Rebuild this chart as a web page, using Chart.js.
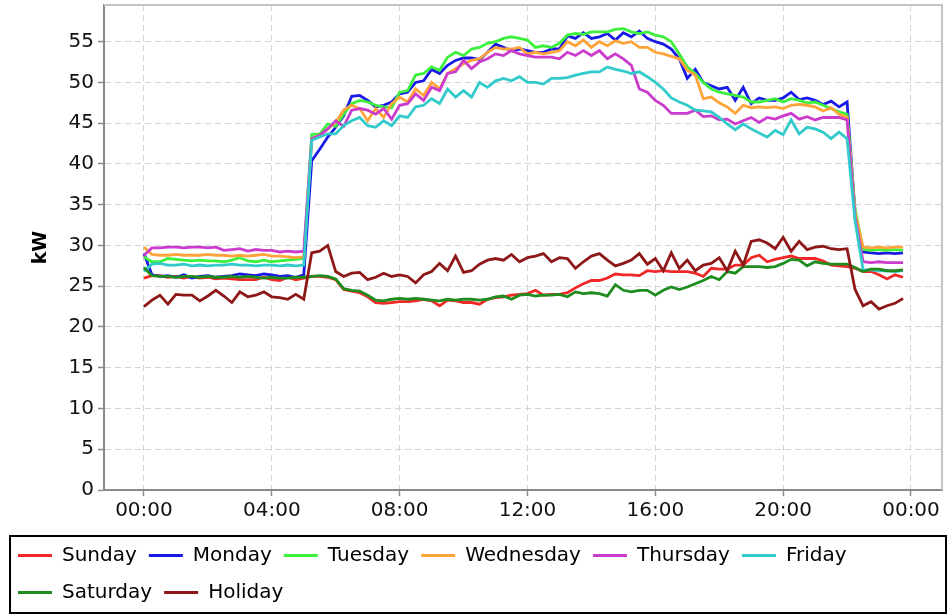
<!DOCTYPE html>
<html><head><meta charset="utf-8">
<script src="https://cdn.jsdelivr.net/npm/chart.js@4.4.1/dist/chart.umd.min.js"></script>
<style>html,body{margin:0;padding:0;background:#fff}canvas{display:block}</style>
</head><body>
<canvas id="c" width="948" height="615"></canvas>
<script>
// 15-minute time slots
const timeSlots = ["00:00","00:15","00:30","00:45","01:00","01:15","01:30","01:45","02:00","02:15","02:30","02:45",
"03:00","03:15","03:30","03:45","04:00","04:15","04:30","04:45","05:00","05:15","05:30","05:45",
"06:00","06:15","06:30","06:45","07:00","07:15","07:30","07:45","08:00","08:15","08:30","08:45",
"09:00","09:15","09:30","09:45","10:00","10:15","10:30","10:45","11:00","11:15","11:30","11:45",
"12:00","12:15","12:30","12:45","13:00","13:15","13:30","13:45","14:00","14:15","14:30","14:45",
"15:00","15:15","15:30","15:45","16:00","16:15","16:30","16:45","17:00","17:15","17:30","17:45",
"18:00","18:15","18:30","18:45","19:00","19:15","19:30","19:45","20:00","20:15","20:30","20:45",
"21:00","21:15","21:30","21:45","22:00","22:15","22:30","22:45","23:00","23:15","23:30","23:45"];

const xTickHours = [0, 4, 8, 12, 16, 20, 24];
const xTickLabels = ["00:00", "04:00", "08:00", "12:00", "16:00", "20:00", "00:00"];
const yTicks = [0, 5, 10, 15, 20, 25, 30, 35, 40, 45, 50, 55];
const yTitle = "kW";
const seriesNames = ["Sunday", "Monday", "Tuesday", "Wednesday", "Thursday", "Friday", "Saturday", "Holiday"];

const sunday = [26.0,26.3,26.3,26.1,26.2,26.0,26.2,26.0,26.1,25.9,26.0,25.9,25.8,25.8,25.8,26.1,25.8,25.7,26.1,25.8,26.0,
26.2,26.2,26.1,25.8,24.6,24.4,24.2,23.7,23.0,22.9,23.0,23.1,23.1,23.2,
23.4,23.2,22.6,23.3,23.2,23.0,23.0,22.8,23.4,23.6,23.7,23.9,24.0,24.1,24.5,23.9,24.0,24.0,24.2,24.8,25.3,25.7,25.7,26.0,26.5,26.4,26.4,26.3,26.9,26.8,26.9,26.8,26.8,26.8,26.6,
26.2,27.2,27.1,27.1,27.6,27.6,28.5,28.8,28.0,28.3,28.5,28.7,28.4,28.4,28.4,28.1,27.6,27.5,27.4,27.2,26.8,26.8,26.4,25.9,26.4,26.1];

const monday = [29.0,26.4,26.2,26.3,26.1,26.4,26.0,26.2,26.3,26.1,26.2,26.3,26.5,26.4,26.3,26.5,26.4,26.2,26.3,26.1,26.4,
40.4,41.8,43.3,44.5,45.9,48.3,48.4,47.8,47.0,47.2,47.6,48.6,48.8,50.0,50.2,51.6,51.1,52.1,52.7,53.0,53.0,52.8,53.7,54.7,54.3,53.9,54.1,53.9,53.7,53.7,54.1,54.1,55.7,55.4,56.1,55.4,55.6,56.0,
55.2,56.1,55.6,56.3,55.4,55.0,54.7,54.1,52.9,50.5,51.6,50.0,49.6,49.2,49.4,47.8,49.4,47.4,48.1,47.8,47.8,48.1,48.8,47.9,48.1,47.8,47.3,47.7,47.0,47.6,
34.0,29.2,29.1,29.0,29.1,29.0,29.1];

const tuesday = [28.6,28.0,28.0,28.4,28.3,28.2,28.1,28.2,28.1,28.1,28.0,28.2,28.5,28.1,28.0,28.2,28.0,28.1,28.2,28.3,28.4,
43.6,43.7,44.9,44.6,46.1,47.4,47.8,47.6,47.2,47.0,46.9,48.8,49.0,50.9,51.1,51.9,51.5,53.1,53.7,53.3,54.1,54.3,54.8,55.0,55.4,55.6,55.4,55.2,54.3,54.5,54.3,54.8,55.8,56.0,55.9,56.2,56.2,56.2,
56.5,56.6,56.2,56.0,56.2,55.8,55.6,55.0,53.5,51.9,51.1,50.0,49.2,48.8,48.6,48.4,48.2,47.6,47.6,47.8,48.0,47.6,48.0,47.8,47.5,47.6,47.2,46.8,46.4,46.1,
34.5,29.5,29.4,29.5,29.4,29.5,29.4];

const wednesday = [29.8,28.9,28.8,28.8,28.9,28.8,28.8,28.8,28.9,28.8,28.8,28.7,28.8,28.7,28.8,28.9,28.7,28.7,28.6,28.5,28.6,
43.1,43.5,44.3,45.1,46.6,47.2,46.8,45.3,46.8,45.7,47.4,48.2,47.6,49.2,48.4,50.0,49.2,51.1,51.7,52.3,52.7,52.9,53.7,54.3,54.1,54.1,54.3,53.5,53.7,53.5,53.7,53.9,55.0,54.5,55.2,54.3,55.0,54.5,
55.1,54.8,55.0,54.3,54.3,53.7,53.5,53.2,52.9,51.5,50.9,48.0,48.2,47.5,47.0,46.2,47.2,46.9,47.0,46.9,47.0,46.8,47.2,47.3,47.2,47.0,46.5,46.9,46.1,45.7,
34.0,29.8,29.7,29.8,29.7,29.8,29.8];

const thursday = [28.8,29.7,29.7,29.8,29.8,29.7,29.8,29.8,29.7,29.8,29.4,29.5,29.6,29.3,29.5,29.4,29.4,29.2,29.3,29.2,29.3,
43.1,43.5,44.3,45.3,44.6,46.6,46.8,46.6,46.1,46.8,45.5,47.2,47.4,48.6,47.8,49.4,49.0,51.1,51.3,52.7,51.7,52.5,52.9,53.5,53.3,53.9,53.5,53.3,53.1,53.1,53.1,52.9,53.7,53.3,53.9,53.3,53.9,52.9,
53.5,52.9,52.1,49.2,48.8,47.8,47.2,46.2,46.2,46.2,46.6,45.8,45.9,45.4,45.5,44.9,45.3,45.7,45.1,45.7,45.5,45.9,46.2,45.5,45.8,45.4,45.7,45.7,45.7,45.4,
33.5,28.0,27.9,28.0,27.9,27.9,27.9];

const friday = [26.8,27.7,27.8,27.6,27.6,27.7,27.5,27.6,27.5,27.6,27.6,27.7,27.6,27.6,27.5,27.6,27.6,27.5,27.6,27.5,27.6,
42.9,43.3,43.7,43.7,44.7,45.3,45.7,44.7,44.5,45.3,44.7,45.9,45.7,47.0,47.2,48.0,47.4,49.2,48.2,49.0,48.2,50.0,49.4,50.2,50.5,50.2,50.7,50.0,50.0,49.8,50.5,50.5,50.6,50.9,51.1,51.3,51.3,51.9,
51.6,51.4,51.1,51.3,50.7,50.0,49.2,48.1,47.6,47.2,46.6,46.5,46.4,45.7,44.9,44.2,44.9,44.3,43.8,43.3,44.1,43.6,45.4,43.7,44.5,44.3,43.9,43.1,43.9,43.1,
33.0,27.0,27.0,26.9,26.9,26.8,26.9];

const saturday = [27.3,26.3,26.2,26.2,26.1,26.2,26.2,26.1,26.2,26.1,26.1,26.2,26.1,26.2,26.1,26.0,26.1,26.0,26.0,26.1,26.1,
26.2,26.3,26.2,25.9,24.7,24.5,24.4,23.9,23.3,23.2,23.4,23.5,23.4,23.5,
23.4,23.3,23.2,23.4,23.3,23.4,23.4,23.3,23.4,23.7,23.8,23.4,23.9,24.0,23.8,23.9,23.9,24.0,23.7,24.3,24.1,24.2,24.1,23.8,25.2,24.5,24.3,24.5,24.5,23.9,24.5,24.9,24.6,24.9,25.3,
25.7,26.2,25.8,26.8,26.6,27.4,27.4,27.4,27.3,27.4,27.8,28.3,28.2,27.5,28.0,27.8,27.7,27.7,27.7,27.3,26.8,27.1,27.1,26.9,26.9,27.0];

const holiday = [22.5,23.3,23.9,22.8,24.0,23.9,23.9,23.2,23.8,24.5,23.8,23.0,24.3,23.7,23.9,24.3,23.7,23.6,23.4,24.0,23.4,
29.1,29.3,30.0,26.8,26.2,26.6,26.7,25.8,26.1,26.6,26.2,26.4,26.2,25.4,
26.4,26.8,27.8,26.9,28.7,26.7,26.9,27.7,28.2,28.4,28.2,28.9,28.0,28.5,28.7,29.0,28.0,28.5,28.4,27.2,28.0,28.7,29.0,28.2,27.5,27.8,28.2,29.0,27.7,28.4,26.9,29.1,27.2,28.2,26.9,
27.6,27.8,28.5,26.9,29.3,27.6,30.5,30.7,30.3,29.6,31.0,29.3,30.5,29.5,29.8,29.9,29.6,29.5,29.6,24.6,22.6,23.1,22.2,22.6,22.9,23.5];

const seriesValues = [sunday, monday, tuesday, wednesday, thursday, friday, saturday, holiday];
const seriesColors = ["#f02828", "#1a1ae6", "#3ef03e", "#ffa43a", "#cc3ccc", "#32caca", "#1e8c1e", "#8e1818"];

const toHours = s => { const [h, m] = s.split(":").map(Number); return h + m / 60; };
const xHours = timeSlots.map(toHours);

const LEG_LINE = 34;
const FONT = "'DejaVu Sans', sans-serif";

const datasets = seriesNames.map((name, i) => ({
  label: name,
  data: seriesValues[i].map((v, k) => ({x: xHours[k], y: v})),
  borderColor: seriesColors[i],
  backgroundColor: seriesColors[i],
  borderWidth: 2.8,
  pointRadius: 0,
  tension: 0,
  fill: false,
  order: seriesNames.length - i
}));

const decor = {
  id: 'decor',
  beforeDatasetsDraw(chart) {
    const {ctx, chartArea: a} = chart;
    ctx.save();
    ctx.strokeStyle = '#c4c4c4';
    ctx.lineWidth = 2;
    ctx.beginPath();
    ctx.moveTo(a.left, a.top); ctx.lineTo(a.right, a.top); ctx.lineTo(a.right, a.bottom);
    ctx.stroke();
    ctx.restore();
  },
  afterDraw(chart) {
    const ctx = chart.ctx, lg = chart.legend;
    ctx.save();
    lg.legendHitBoxes.forEach((hb, i) => {
      const item = lg.legendItems[i];
      const ds = chart.data.datasets[item.datasetIndex];
      const y = hb.top + hb.height / 2;
      ctx.strokeStyle = ds.borderColor;
      ctx.lineWidth = 3;
      ctx.beginPath(); ctx.moveTo(hb.left, y); ctx.lineTo(hb.left + LEG_LINE, y); ctx.stroke();
    });
    ctx.strokeStyle = '#000';
    ctx.lineWidth = 2;
    ctx.strokeRect(10, lg.top + 5, chart.width - 12, 77);
    ctx.restore();
  }
};

new Chart(document.getElementById('c'), {
  type: 'line',
  data: {datasets},
  plugins: [decor],
  options: {
    responsive: false,
    animation: false,
    devicePixelRatio: 1,
    layout: {padding: {left: 6, right: 6, top: 5, bottom: 0}},
    plugins: {
      tooltip: {enabled: false},
      legend: {
        position: 'bottom',
        align: 'start',
        labels: {
          boxWidth: LEG_LINE,
          boxHeight: 25,
          padding: 12,
          color: '#000',
          font: {family: FONT, size: 20},
          generateLabels: chart => chart.data.datasets.map((ds, i) => ({
            text: ds.label, fillStyle: 'rgba(0,0,0,0)', strokeStyle: 'rgba(0,0,0,0)',
            lineWidth: 0, hidden: false, datasetIndex: i, fontColor: '#000'
          }))
        }
      }
    },
    scales: {
      x: {
        type: 'linear',
        min: -1.25,
        max: 24.97,
        afterBuildTicks: s => { s.ticks = xTickHours.map(v => ({value: v})); },
        afterFit: s => { s.height = 41; s.paddingLeft = 0; s.paddingRight = 0; },
        ticks: {
          color: '#111', padding: 3, maxRotation: 0, autoSkip: false,
          font: {family: FONT, size: 20},
          callback: (v, i) => xTickLabels[i]
        },
        grid: {color: '#d4d4d4', lineWidth: 1, tickLength: 6, tickColor: '#8a8a8a', tickWidth: 1.5},
        border: {display: true, color: '#8a8a8a', width: 2, dash: [6, 4]}
      },
      y: {
        type: 'linear',
        min: 0,
        max: 59.5,
        afterBuildTicks: s => { s.ticks = yTicks.map(v => ({value: v})); },
        afterFit: s => { s.width = 98; s.paddingTop = 0; s.paddingBottom = 0; },
        ticks: {color: '#111', padding: 4, font: {family: FONT, size: 20}},
        grid: {color: '#d4d4d4', lineWidth: 1, tickLength: 6, tickColor: '#8a8a8a', tickWidth: 1.5},
        border: {display: true, color: '#8a8a8a', width: 2, dash: [6, 4]},
        title: {display: true, text: yTitle, color: '#000', font: {family: FONT, size: 19, weight: 'bold'}, padding: {top: 24, bottom: 0}}
      }
    }
  }
});
</script>
</body></html>
